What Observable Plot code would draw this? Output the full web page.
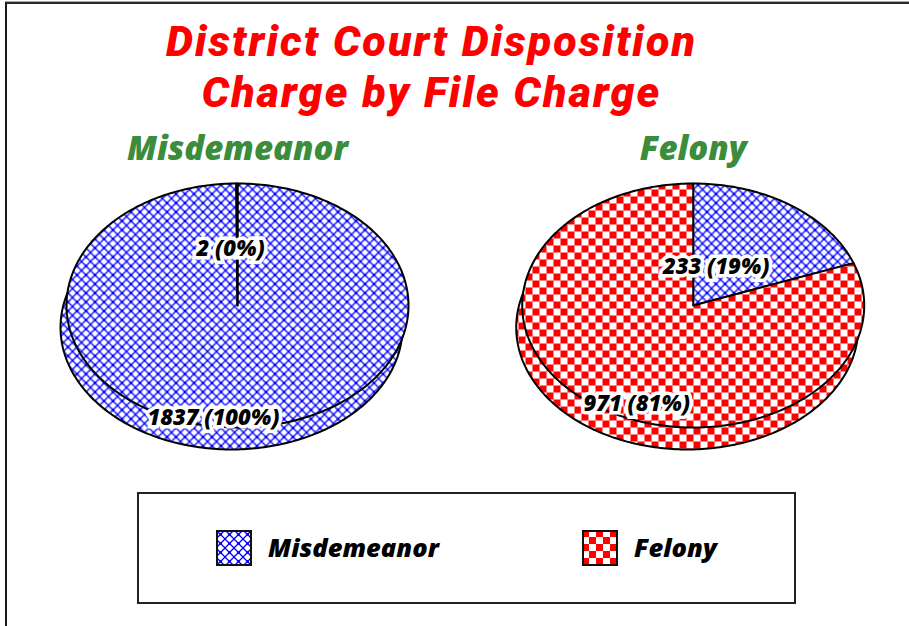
<!DOCTYPE html>
<html><head><meta charset="utf-8">
<script src="https://cdn.jsdelivr.net/npm/d3@7"></script>
<script src="https://cdn.jsdelivr.net/npm/@observablehq/plot@0.6"></script>
<style>
body{margin:0;background:#fff;}
#wrap{position:relative;width:909px;height:626px;overflow:hidden;font-family:"Open Sans",sans-serif;}
#chart{position:absolute;left:0;top:0;}
#border{position:absolute;left:5px;top:2px;width:960px;height:700px;border-top:2px solid #2a2a2a;border-left:2px solid #1a1a1a;box-shadow:0 -1px 0 #aaa;pointer-events:none;}
#legend{position:absolute;left:137px;top:492px;width:655px;height:108px;border:2px solid #222;background:#fff;}
.item{position:absolute;top:36px;height:36px;}
.item svg{position:absolute;left:0;top:0;}
.item span{position:absolute;left:52px;top:-1px;line-height:36px;font-size:25.5px;font-weight:800;font-style:italic;color:#000;white-space:nowrap;}
.chart-title text{letter-spacing:2.1px;}
</style></head><body>
<div id="wrap"><div id="chart"></div><div id="border"></div><div id="legend"></div></div>
<script>
// ---- data ----
const titleLines = ["District Court Disposition", "Charge by File Charge"];
const fileCharges = ["Misdemeanor", "Felony"];          // one pie per file charge
const dispositions = ["Misdemeanor", "Felony"];         // slices / legend
const misdemeanorFileCounts = [1837, 2];                // disposition counts, Misdemeanor file charge
const felonyFileCounts = [233, 971];                    // disposition counts, Felony file charge
const pieCounts = [misdemeanorFileCounts, felonyFileCounts];

// ---- layout (unit ellipse coordinates) ----
const pieCenters = [0, 2.665];
const sideShift = [-0.035, -0.18];
const labelSpots = [[[-0.14, -0.92], [-0.04, 0.46]], [[0.134, 0.32], [-0.33, -0.81]]];
const patternIds = {Misdemeanor: "url(#lattice)", Felony: "url(#checker)"};

function arcPoints(cx, cy, a0, a1) {
  const n = Math.max(1, Math.ceil((a1 - a0) / (Math.PI / 180)));
  return d3.range(n + 1).map(k => {
    const t = a0 + (a1 - a0) * k / n;
    return [cx + Math.sin(t), cy + Math.cos(t)];
  });
}

const topPts = [], sidePts = [], rims = [], labels = [];
pieCounts.forEach((counts, p) => {
  const total = d3.sum(counts);
  let a = 0;
  counts.forEach((v, k) => {
    const a0 = a, a1 = a + v / total * 2 * Math.PI; a = a1;
    const cat = dispositions[k];
    const id = p + "-" + k;
    const cx = pieCenters[p];
    [[cx, 0, topPts], [cx + sideShift[0], sideShift[1], sidePts]].forEach(([x0, y0, arr]) => {
      arr.push({id, cat, x: x0, y: y0});
      arcPoints(x0, y0, a0, a1).forEach(([x, y]) => arr.push({id, cat, x, y}));
      arr.push({id, cat, x: x0, y: y0});
    });
    labels.push({
      text: `${v} (${Math.round(v / total * 100)}%)`,
      x: cx + labelSpots[p][k][0], y: labelSpots[p][k][1]
    });
  });
  arcPoints(pieCenters[p] + sideShift[0], sideShift[1], 0, 2 * Math.PI)
    .forEach(([x, y]) => rims.push({id: p, x, y}));
});

const font = {fontFamily: "'Open Sans', sans-serif", fontWeight: 800, fontStyle: "italic"};

const chart = Plot.plot({
  width: 909, height: 626,
  margin: 0,
  x: {domain: [-237 / 171, (909 - 237) / 171], axis: null},
  y: {domain: [-(626 - 305) / 122, 305 / 122], axis: null},
  marks: [
    ...dispositions.map(cat => Plot.line(sidePts.filter(d => d.cat === cat),
      {x: "x", y: "y", z: "id", fill: patternIds[cat], stroke: "none", curve: "linear"})),
    Plot.line(rims, {x: "x", y: "y", z: "id", stroke: "black", strokeWidth: 2}),
    ...dispositions.map(cat => Plot.line(topPts.filter(d => d.cat === cat),
      {x: "x", y: "y", z: "id", fill: patternIds[cat], stroke: "black", strokeWidth: 2, strokeLinejoin: "round"})),
    Plot.text(labels, {x: "x", y: "y", text: "text", fontSize: 22, ...font, fill: "black",
      stroke: "white", strokeWidth: 7, strokeLinejoin: "miter", paintOrder: "stroke"}),
    Plot.text(fileCharges, {x: (d, i) => pieCenters[i], y: 1, dy: -34, text: d => d,
      fontSize: 33, ...font, fill: "#3b8c3b"}),
    ...titleLines.map((t, i) => Plot.text([t], {frameAnchor: "top-left", dx: 431, dy: 42 + i * 51,
      text: d => d, textAnchor: "middle", lineAnchor: "middle", fontSize: 43, className: "chart-title",
      fontFamily: "Roboto, sans-serif", fontWeight: 900, fontStyle: "italic", fill: "#ff0000"}))
  ]
});

const defs = d3.select(chart).insert("defs", ":first-child");
const lat = defs.append("pattern").attr("id", "lattice").attr("patternUnits", "userSpaceOnUse")
  .attr("width", 9).attr("height", 9);
lat.append("rect").attr("width", 9).attr("height", 9).attr("fill", "white");
lat.append("path").attr("d", "M-1,-1L10,10M10,-1L-1,10").attr("stroke", "#0000ff").attr("stroke-width", 1.3).attr("fill", "none");
lat.append("path").attr("d", "M4.5,3L6,4.5L4.5,6L3,4.5Z").attr("fill", "#0000ee");
const chk = defs.append("pattern").attr("id", "checker").attr("patternUnits", "userSpaceOnUse")
  .attr("width", 14).attr("height", 14);
chk.append("rect").attr("width", 14).attr("height", 14).attr("fill", "white");
chk.append("rect").attr("width", 7).attr("height", 7).attr("fill", "#ff0000");
chk.append("rect").attr("x", 7).attr("y", 7).attr("width", 7).attr("height", 7).attr("fill", "#ff0000");

document.getElementById("chart").appendChild(chart);

const legendLeft = [77, 443];
const legend = d3.select("#legend");
dispositions.forEach((cat, i) => {
  const item = legend.append("div").attr("class", "item").style("left", legendLeft[i] + "px");
  const s = item.append("svg").attr("width", 36).attr("height", 36);
  s.append("rect").attr("x", 1).attr("y", 1).attr("width", 34).attr("height", 34)
    .attr("fill", patternIds[cat]).attr("stroke", "#111").attr("stroke-width", 2);
  item.append("span").text(cat);
});
</script>
</body></html>
